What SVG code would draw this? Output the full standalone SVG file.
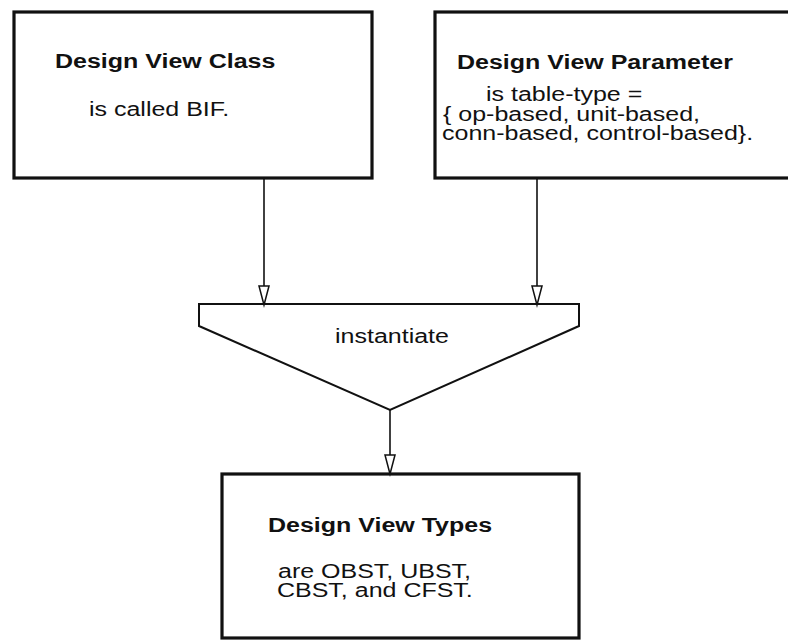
<svg xmlns="http://www.w3.org/2000/svg" width="788" height="640" viewBox="0 0 788 640">
  <style>
    .box { fill: #fff; stroke: #111; stroke-width: 3.2; }
    .funnel { fill: #fff; stroke: #111; stroke-width: 2; stroke-linejoin: miter; }
    .edge { fill: none; stroke: #111; stroke-width: 1.6; }
    .title { font-family: "Liberation Sans", Arial, Helvetica, sans-serif; font-size: 20px; font-weight: bold; fill: #111; }
    .body { font-family: "Liberation Sans", Arial, Helvetica, sans-serif; font-size: 20px; fill: #111; }
  </style>
  <defs>
    <marker id="open-arrow" markerUnits="userSpaceOnUse" markerWidth="22" markerHeight="14" refX="19" refY="5" orient="auto" overflow="visible">
      <path d="M0,0 L19,5 L0,10 Z" fill="#fff" stroke="#111" stroke-width="1.5" stroke-linejoin="miter"/>
    </marker>
  </defs>
  <rect width="788" height="640" fill="#fff"/>

  <g id="design-view-class">
    <rect class="box" x="14" y="12" width="358" height="166"/>
    <text class="title" transform="translate(55 68) scale(1.25 1)">Design View Class</text>
    <text class="body" transform="translate(89 116) scale(1.25 1)">is called BIF.</text>
  </g>

  <g id="design-view-parameter">
    <rect class="box" x="435" y="12" width="370" height="166"/>
    <text class="title" transform="translate(457 69) scale(1.25 1)">Design View Parameter</text>
    <text class="body" transform="translate(486 101) scale(1.25 1)">is table-type =</text>
    <text class="body" transform="translate(443 121) scale(1.25 1)">{ op-based, unit-based,</text>
    <text class="body" transform="translate(442 140) scale(1.25 1)">conn-based, control-based}.</text>
  </g>

  <g id="instantiate">
    <path class="funnel" d="M199,304 L579,304 L579,326 L390,410 L199,326 Z"/>
    <text class="body" text-anchor="middle" transform="translate(392 343) scale(1.25 1)">instantiate</text>
  </g>

  <g id="design-view-types">
    <rect class="box" x="222" y="474" width="357" height="164"/>
    <text class="title" transform="translate(268 532) scale(1.25 1)">Design View Types</text>
    <text class="body" transform="translate(278 578) scale(1.25 1)">are OBST, UBST,</text>
    <text class="body" transform="translate(277 597) scale(1.25 1)">CBST, and CFST.</text>
  </g>

  <g id="connectors">
    <line class="edge" x1="264" y1="179" x2="264" y2="305" marker-end="url(#open-arrow)"/>
    <line class="edge" x1="537" y1="179" x2="537" y2="305" marker-end="url(#open-arrow)"/>
    <line class="edge" x1="390" y1="410" x2="390" y2="474" marker-end="url(#open-arrow)"/>
  </g>
</svg>
